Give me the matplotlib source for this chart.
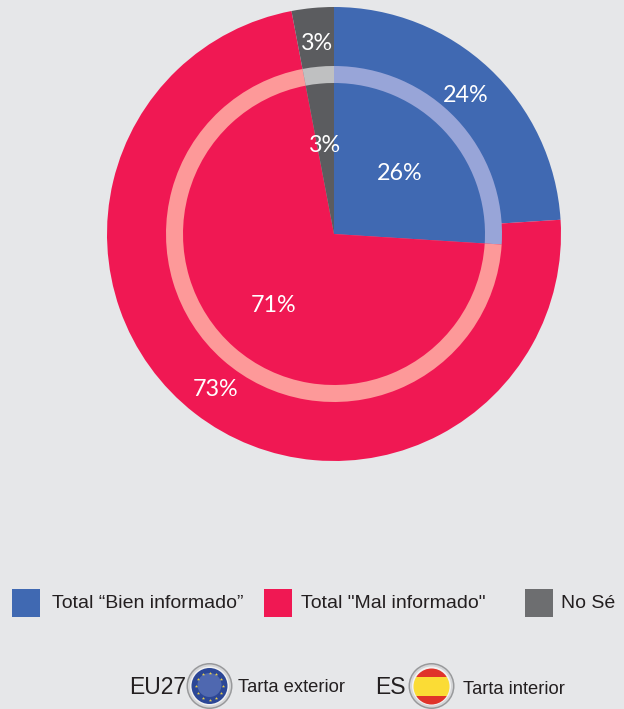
import matplotlib
matplotlib.use("Agg")
import matplotlib.pyplot as plt
from matplotlib.patches import Circle, Rectangle
import numpy as np

categorias = ["Total “Bien informado”", "Total \"Mal informado\"", "No Sé"]
eu27 = [24, 73, 3]
espana = [26, 71, 3]
colores = ["#4069b2", "#f01853", "#5b5c5f"]
colores_aro = ["#98a5d8", "#fd9999", "#bfc0c1"]
fondo = "#e6e7e9"
alto = 709

# posiciones en pixeles de la imagen, y medida desde arriba
def py(y):
    return alto - y

fig = plt.figure(figsize=(6.24, 7.09), dpi=100, facecolor=fondo)
ax = fig.add_axes([0, 0, 1, 1])

# Tartas
centro = (334, py(234))
ax.pie(eu27, colors=colores, center=centro, radius=227, startangle=90, counterclock=False,
       wedgeprops={"linewidth": 0})
ax.pie(espana, colors=colores_aro, center=centro, radius=168, startangle=90, counterclock=False,
       wedgeprops={"linewidth": 0})
ax.pie(espana, colors=colores, center=centro, radius=151, startangle=90, counterclock=False,
       wedgeprops={"linewidth": 0})

ax.set_xlim(0, 624)
ax.set_ylim(0, alto)
ax.set_aspect("equal")
ax.axis("off")

# Porcentajes
fuente = "Lato"
pos_eu27 = [(466, 95), (216, 389), (317, 43)]
pos_es = [(400, 173), (274, 305), (325, 145)]
for v, (x, y) in zip(eu27, pos_eu27):
    ax.text(x, py(y), f"{v}%", color="white", fontsize=16.8, family=fuente, ha="center", va="center")
for v, (x, y) in zip(espana, pos_es):
    ax.text(x, py(y), f"{v}%", color="white", fontsize=16.8, family=fuente, ha="center", va="center")

# Leyenda
x_cuadro = [12, 264, 525]
x_texto = [52, 301, 561]
colores_leyenda = ["#4069b2", "#f01853", "#6d6e70"]
for c, xc, xt, color in zip(categorias, x_cuadro, x_texto, colores_leyenda):
    ax.add_patch(Rectangle((xc, py(617)), 28, 28, color=color, linewidth=0))
    ax.text(xt, py(604), c, color="#231f20", fontsize=14, family="Liberation Sans", ha="left", va="center")

# Banderas
def aro(x, y):
    ax.add_patch(Circle((x, py(y)), 23, color="#98999b", linewidth=0))
    ax.add_patch(Circle((x, py(y)), 21.5, color="#d5d6d8", linewidth=0))
    ax.add_patch(Circle((x, py(y)), 19.5, color="#f2f2f2", linewidth=0))

aro(209.5, 686)
ax.add_patch(Circle((209.5, py(686)), 18, color="#2c4796", linewidth=0))
ax.add_patch(Circle((209.5, py(685)), 12, color="#4f68b0", linewidth=0))
ang = np.arange(12) * np.pi / 6
ax.scatter(209.5 + 13.5 * np.cos(ang), py(686) + 13.5 * np.sin(ang), marker="*", s=6, color="#e8cf4a", linewidth=0, zorder=3)

aro(431.5, 686)
disco = Circle((431.5, py(686.5)), 18, transform=ax.transData)
for y0, h, color in [(668, 9, "#e0332a"), (677, 19, "#fbdc35"), (696, 9, "#e0332a")]:
    r = Rectangle((411, py(y0 + h)), 41, h, color=color, linewidth=0)
    ax.add_patch(r)
    r.set_clip_path(disco)

ax.text(129, py(688), "EU27", color="#231f20", fontsize=16.5, family="Liberation Sans", ha="left", va="center")
ax.text(238, py(687), "Tarta exterior", color="#231f20", fontsize=13.2, family="Liberation Sans", ha="left", va="center")
ax.text(375, py(688), "ES", color="#231f20", fontsize=16.5, family="Liberation Sans", ha="left", va="center")
ax.text(463, py(690), "Tarta interior", color="#231f20", fontsize=13.2, family="Liberation Sans", ha="left", va="center")

fig.savefig("out.png", dpi=100, facecolor=fondo)
